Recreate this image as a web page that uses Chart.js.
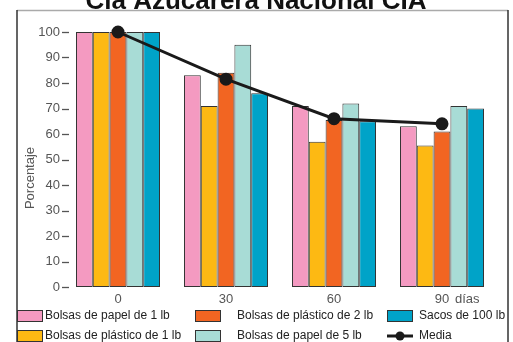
<!DOCTYPE html>
<html lang="es">
<head>
<meta charset="utf-8">
<title>Cía Azucarera Nacional CIA</title>
<script src="https://cdn.jsdelivr.net/npm/chart.js@4/dist/chart.umd.min.js"></script>
<style>
  html, body { margin: 0; padding: 0; background: #fff; }
  #wrap { width: 513px; height: 342px; position: relative; overflow: hidden; }
</style>
</head>
<body>
<div id="wrap"><canvas id="chart" width="513" height="342"></canvas></div>
<script>
// días de almacenamiento
const dias = ["0", "30", "60", "90"];

// porcentaje retenido por tipo de empaque
const papel1lb = [100, 83, 71, 63];
const plastico1lb = [100, 71, 57, 55.5];
const plastico2lb = [100, 84, 65.5, 61];
const papel5lb = [100, 95, 72, 71];
const sacos100lb = [100, 76, 65, 70];
const media = [100, 81.5, 66, 64];

const yTicks = [0, 10, 20, 30, 40, 50, 60, 70, 80, 90, 100];

const FONT = "'Liberation Sans', Arial, sans-serif";
const BORDE = "#333";

function barra(label, data, color) {
    return { type: "bar", label, data, backgroundColor: color, borderColor: BORDE, borderWidth: 1, borderSkipped: false, order: 1 };
}

// marco, título, guiones del eje Y, rótulo "Porcentaje" y leyenda en 3 columnas
const decoracion = {
    id: "decoracion",
    beforeDraw(chart) {
        const c = chart.ctx;
        c.save();
        c.fillStyle = "#fff";
        c.fillRect(0, 0, chart.width, chart.height);
        c.strokeStyle = "#aaa";
        c.lineWidth = 1.5;
        c.beginPath(); c.moveTo(17, 10.5); c.lineTo(508, 10.5); c.stroke();
        c.strokeStyle = "#333";
        c.beginPath(); c.moveTo(17, 10); c.lineTo(17, 342); c.moveTo(508, 10); c.lineTo(508, 342); c.stroke();

        c.fillStyle = "#111";
        c.font = "bold 26px " + FONT;
        c.textAlign = "center";
        c.textBaseline = "alphabetic";
        c.fillText("Cía Azucarera Nacional CIA", 256, 9);
        c.restore();
    },
    afterDraw(chart) {
        const c = chart.ctx, y = chart.scales.y, x = chart.scales.x, a = chart.chartArea;
        c.save();
        c.strokeStyle = "#555";
        c.lineWidth = 1.3;
        yTicks.forEach(v => {
            const py = Math.round(y.getPixelForValue(v)) + 0.5;
            c.beginPath(); c.moveTo(a.left - 2, py); c.lineTo(a.left + 5, py); c.stroke();
        });

        c.fillStyle = "#555";
        c.font = "13px " + FONT;
        c.textBaseline = "middle";
        c.textAlign = "left";
        const ult = x.getPixelForValue(dias.length - 1);
        c.fillText("días", ult + 13, a.bottom + 12);

        c.translate(30, 178);
        c.rotate(-Math.PI / 2);
        c.textAlign = "center";
        c.fillText("Porcentaje", 0, 0);
        c.restore();

        // leyenda
        const ds = chart.data.datasets;
        const pos = [
            { sx: 17, tx: 45, y: 316 },   // papel 1 lb
            { sx: 17, tx: 45, y: 336 },   // plástico 1 lb
            { sx: 195, tx: 237, y: 316 }, // plástico 2 lb
            { sx: 195, tx: 237, y: 336 }, // papel 5 lb
            { sx: 387, tx: 419, y: 316 }, // sacos 100 lb
            { sx: 387, tx: 419, y: 336 }  // media
        ];
        c.save();
        c.font = "12px " + FONT;
        c.textBaseline = "middle";
        c.textAlign = "left";
        ds.forEach((d, i) => {
            const p = pos[i];
            if (d.type === "line") {
                c.strokeStyle = d.borderColor;
                c.lineWidth = 3;
                c.beginPath(); c.moveTo(p.sx, p.y); c.lineTo(p.sx + 26, p.y); c.stroke();
                c.fillStyle = d.borderColor;
                c.beginPath(); c.arc(p.sx + 13, p.y, 4.5, 0, Math.PI * 2); c.fill();
            } else {
                c.fillStyle = d.backgroundColor;
                c.fillRect(p.sx, p.y - 5.5, 26, 11);
                c.strokeStyle = BORDE;
                c.lineWidth = 1;
                c.strokeRect(p.sx + 0.5, p.y - 5.5, 25, 11);
            }
            c.fillStyle = "#222";
            c.fillText(d.label, p.tx, p.y);
        });
        c.restore();
    }
};

new Chart(document.getElementById("chart"), {
    data: {
        labels: dias,
        datasets: [
            barra("Bolsas de papel de 1 lb", papel1lb, "#F49AC1"),
            barra("Bolsas de plástico de 1 lb", plastico1lb, "#FDB913"),
            barra("Bolsas de plástico de 2 lb", plastico2lb, "#F26522"),
            barra("Bolsas de papel de 5 lb", papel5lb, "#A8DCD6"),
            barra("Sacos de 100 lb", sacos100lb, "#00A3C8"),
            { type: "line", label: "Media", data: media, borderColor: "#1a1a1a", backgroundColor: "#1a1a1a", borderWidth: 3, pointRadius: 5, pointHoverRadius: 5, tension: 0, clip: false, order: 0 }
        ]
    },
    options: {
        responsive: false,
        animation: false,
        layout: { padding: { left: 17, right: 17, top: 32, bottom: 33 } },
        datasets: { bar: { barPercentage: 1, categoryPercentage: 0.778 } },
        plugins: { legend: { display: false }, tooltip: { enabled: false } },
        scales: {
            x: {
                grid: { display: false, drawTicks: false },
                border: { display: false },
                ticks: { color: "#555", font: { family: FONT, size: 13 }, padding: 5 },
                afterFit: s => { s.height = 22; }
            },
            y: {
                min: 0, max: 100,
                afterBuildTicks: s => { s.ticks = yTicks.map(v => ({ value: v })); },
                grid: { display: false, drawTicks: false },
                border: { display: false },
                ticks: { color: "#555", font: { family: FONT, size: 13 }, padding: 4 },
                afterFit: s => { s.width = 47; }
            }
        }
    },
    plugins: [decoracion]
});
</script>
</body>
</html>
